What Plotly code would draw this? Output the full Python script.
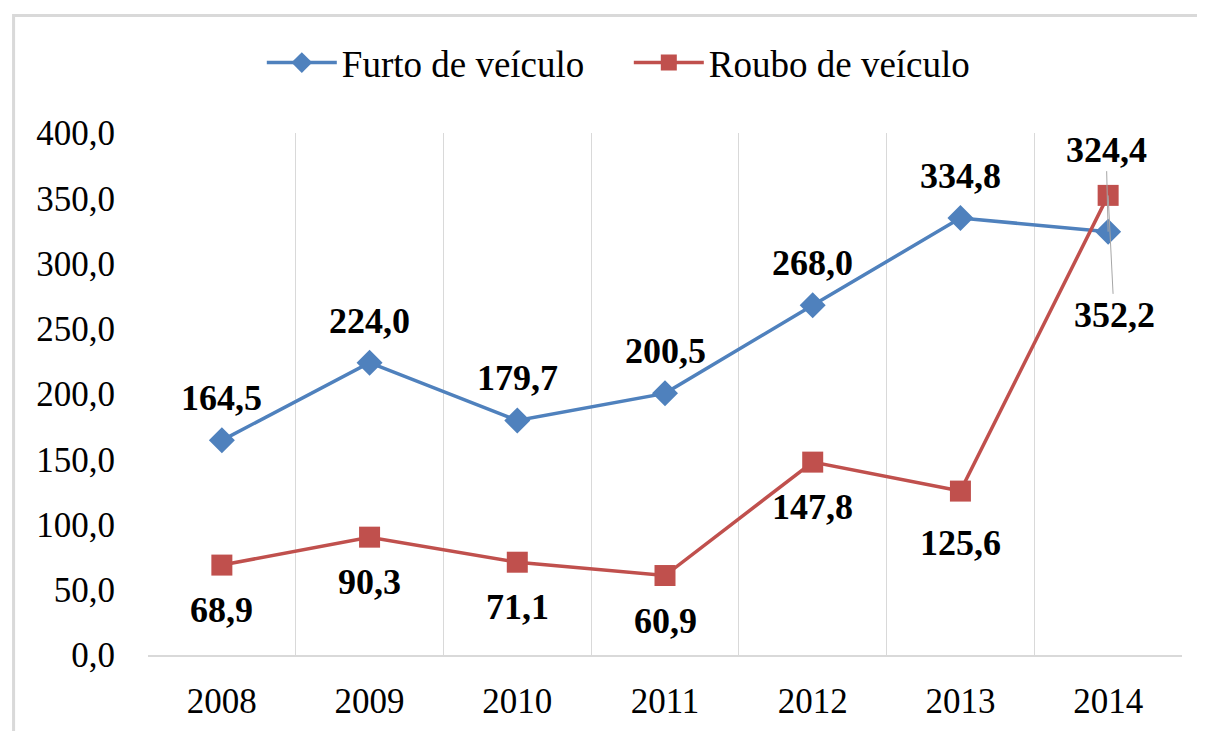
import plotly.graph_objects as go

years = ["2008", "2009", "2010", "2011", "2012", "2013", "2014"]
furto = [164.5, 224.0, 179.7, 200.5, 268.0, 334.8, 324.4]
roubo = [68.9, 90.3, 71.1, 60.9, 147.8, 125.6, 352.2]

BLUE = "#4F81BD"
RED = "#C0504D"
FONT = "Liberation Serif"
GRID = "#d9d9d9"


def fmt(v):
    return f"{v:.1f}".replace(".", ",")


fig = go.Figure()
fig.add_trace(go.Scatter(
    x=years, y=furto, mode="lines+markers", name="Furto de veículo",
    line=dict(color=BLUE, width=3.5),
    marker=dict(symbol="diamond", size=20, color=BLUE),
))
fig.add_trace(go.Scatter(
    x=years, y=roubo, mode="lines+markers", name="Roubo de veículo",
    line=dict(color=RED, width=3.5),
    marker=dict(symbol="square", size=21, color=RED),
))

annotations = []
lab_font = dict(family=FONT, size=36, color="black")
last = len(years) - 1
for i, v in enumerate(furto):
    if i == last:
        annotations.append(dict(x=i, y=v, xref="x", yref="y", text="<b>" + fmt(v) + "</b>",
                                showarrow=True, ax=-2, ay=-82, arrowhead=0, arrowwidth=1,
                                arrowcolor="#a6a6a6", standoff=0, font=lab_font))
    else:
        annotations.append(dict(x=i, y=v, xref="x", yref="y", text="<b>" + fmt(v) + "</b>",
                                showarrow=False, yshift=42, font=lab_font))
for i, v in enumerate(roubo):
    if i == last:
        annotations.append(dict(x=i, y=v, xref="x", yref="y", text="<b>" + fmt(v) + "</b>",
                                showarrow=True, ax=6, ay=120, arrowhead=0, arrowwidth=1,
                                arrowcolor="#a6a6a6", standoff=0, font=lab_font))
    else:
        shift = -52 if years[i] == "2013" else -45
        annotations.append(dict(x=i, y=v, xref="x", yref="y", text="<b>" + fmt(v) + "</b>",
                                showarrow=False, yshift=shift, font=lab_font))

fig.update_layout(
    width=1205, height=731,
    paper_bgcolor="white", plot_bgcolor="white",
    margin=dict(l=140, r=31, t=125, b=84),
    separators=",.",
    font=dict(family=FONT, size=34, color="black"),
    showlegend=True,
    legend=dict(orientation="h", x=0.465, xanchor="center", y=1.134, yanchor="middle",
                font=dict(family=FONT, size=37, color="black"),
                itemwidth=70, entrywidth=282, entrywidthmode="pixels"),
    xaxis=dict(type="category", tickson="boundaries", showgrid=True,
               gridcolor=GRID, gridwidth=1, showline=True, linecolor=GRID,
               linewidth=2, ticks="", range=[-0.5, 6.5], zeroline=False,
               tickfont=dict(family=FONT, size=35), ticklabelstandoff=14),
    yaxis=dict(range=[0, 400], dtick=50, tickformat=".1f", showgrid=False,
               zeroline=False, showline=False, ticks="",
               tickfont=dict(family=FONT, size=35), ticklabelstandoff=32),
    annotations=annotations,
    shapes=[dict(type="rect", xref="paper", yref="paper",
                 x0=-0.13, x1=1.2, y0=-0.3, y1=1.225,
                 line=dict(color=GRID, width=3), layer="below")],
)

fig.write_html("out.html")
